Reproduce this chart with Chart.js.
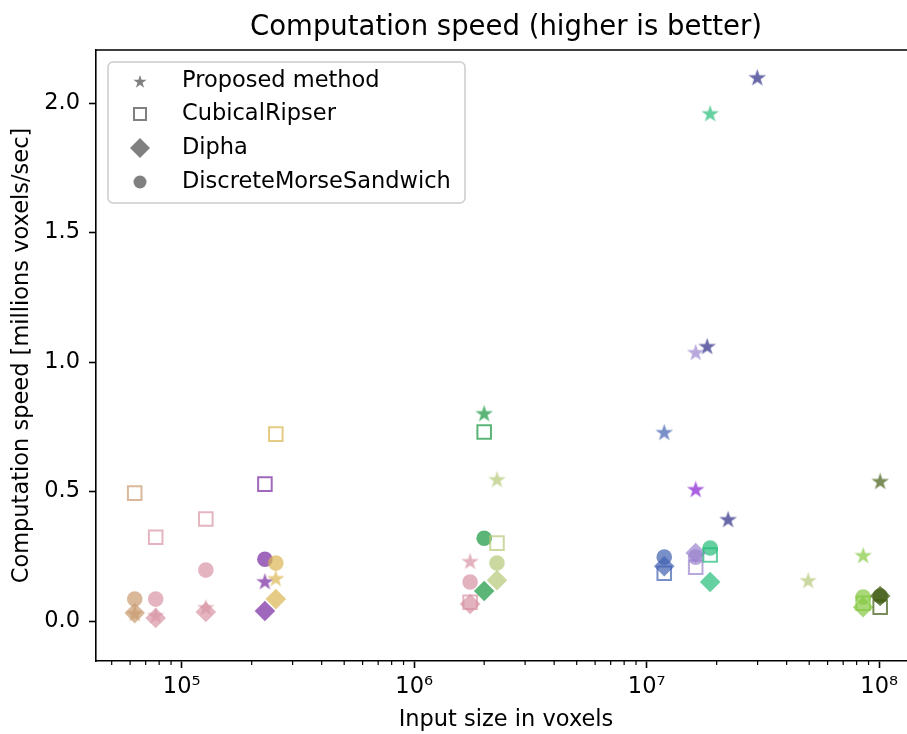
<!DOCTYPE html>
<html>
<head>
<meta charset="utf-8">
<script src="https://cdn.jsdelivr.net/npm/chart.js@4.4.1/dist/chart.umd.min.js"></script>
<style>
  html, body { margin: 0; padding: 0; background: #fff; overflow: hidden; }
  #speedChart { display: block; width: 907px; height: 734px; }
</style>
</head>
<body>
<canvas id="speedChart" width="907" height="734"></canvas>
<script>
// input sizes in voxels, one per test volume
const inputSizes = [6.28e4, 7.73e4, 1.27e5, 2.28e5, 2.54e5, 1.74e6, 2.0e6, 2.27e6, 1.19e7, 1.625e7, 1.625e7, 1.82e7, 1.875e7, 2.24e7, 2.99e7, 4.95e7, 8.53e7, 1.01e8];

// computation speed in millions voxels/sec (null = no run for that volume)
const proposedSpeed = [0.031, 0.023, 0.054, 0.154, 0.166, 0.232, 0.803, 0.548, 0.730, 1.039, 0.510, 1.062, 1.961, 0.394, 2.100, 0.158, 0.255, 0.541];
const cubicalRipserSpeed = [0.494, 0.324, 0.394, 0.529, 0.722, 0.073, 0.730, 0.301, 0.185, 0.208, null, null, 0.255, null, null, null, 0.069, 0.054];
const diphaSpeed = [0.031, 0.012, 0.035, 0.039, 0.085, 0.066, 0.116, 0.158, 0.212, 0.263, null, null, 0.151, null, null, null, 0.054, 0.097];
const dmsSpeed = [0.085, 0.085, 0.197, 0.239, 0.224, 0.151, 0.320, 0.224, 0.247, 0.247, null, null, 0.282, null, null, null, 0.093, 0.097];

const methodNames = ['Proposed method', 'CubicalRipser', 'Dipha', 'DiscreteMorseSandwich'];
const xTickValues = [1e5, 1e6, 1e7, 1e8];
const yTickValues = [0, 0.5, 1.0, 1.5, 2.0];

// one colour per input volume
const inputColors = [
  'rgba(201,155,111,0.7)', 'rgba(216,150,165,0.7)', 'rgba(216,150,165,0.7)', 'rgba(120,40,160,0.7)',
  'rgba(218,181,81,0.7)', 'rgba(214,145,162,0.7)', 'rgba(21,149,61,0.7)', 'rgba(181,201,119,0.7)',
  'rgba(62,96,177,0.7)', 'rgba(154,131,205,0.7)', 'rgba(131,28,211,0.7)', 'rgba(42,42,134,0.7)',
  'rgba(36,188,119,0.7)', 'rgba(42,42,134,0.7)', 'rgba(42,42,134,0.7)', 'rgba(181,201,119,0.7)',
  'rgba(131,199,62,0.7)', 'rgba(65,91,19,0.7)'
];

const FONT = 'DejaVu Sans';
const superDigits = '⁰¹²³⁴⁵⁶⁷⁸⁹';
// the original axes run a little past the right edge of the picture
const AXES_RIGHT = 916;

function starPath(ctx, cx, cy, R) {
  const r = R * 0.382;
  ctx.beginPath();
  for (let i = 0; i < 10; i++) {
    const a = -Math.PI / 2 + i * Math.PI / 5;
    const rad = i % 2 === 0 ? R : r;
    const px = cx + rad * Math.cos(a), py = cy + rad * Math.sin(a);
    if (i === 0) ctx.moveTo(px, py); else ctx.lineTo(px, py);
  }
  ctx.closePath();
}

function starImage(color, R) {
  const c = document.createElement('canvas');
  const s = Math.ceil(2 * R + 2);
  c.width = s; c.height = s;
  const g = c.getContext('2d');
  g.fillStyle = color;
  starPath(g, s / 2, s / 2 + R * 0.1, R);
  g.fill();
  return c;
}

const starImgs = inputColors.map(c => starImage(c, 9.2));

function points(values) {
  return values.map((v, i) => v === null ? null : { x: inputSizes[i], y: v, c: i }).filter(p => p);
}
const colorOf = ctx => ctx.raw ? inputColors[ctx.raw.c] : '#888';

// widen the x axis past the canvas edge
const widenAxes = {
  id: 'widenAxes',
  afterLayout(chart) {
    const d = AXES_RIGHT - chart.chartArea.right;
    chart.chartArea.right += d;
    chart.chartArea.width += d;
    const xs = chart.scales.x;
    xs.right += d;
    xs.width += d;
    xs.configure();
  }
};

// legend box, title, minor ticks and top/right spines
const extras = {
  id: 'extras',
  afterDraw(chart) {
    const { ctx, chartArea: a, scales } = chart;
    ctx.save();
    ctx.strokeStyle = '#000';
    ctx.lineWidth = 1.6;
    ctx.beginPath();
    ctx.moveTo(a.left, a.top); ctx.lineTo(a.right, a.top); ctx.lineTo(a.right, a.bottom);
    ctx.stroke();
    // minor ticks on log axis
    const xs = scales.x;
    ctx.lineWidth = 1.2;
    for (let e = 4; e <= 8; e++) {
      for (let m = 2; m <= 9; m++) {
        const v = m * Math.pow(10, e);
        if (v < xs.min || v > xs.max) continue;
        const px = xs.getPixelForValue(v);
        ctx.beginPath(); ctx.moveTo(px, a.bottom); ctx.lineTo(px, a.bottom + 4); ctx.stroke();
      }
    }
    // title, centred on the axes like matplotlib
    ctx.fillStyle = '#000';
    ctx.font = '27.5px "' + FONT + '"';
    ctx.textAlign = 'center';
    ctx.textBaseline = 'alphabetic';
    ctx.fillText('Computation speed (higher is better)', (a.left + a.right) / 2, 35);
    // legend
    const bx = a.left + 12, by = a.top + 12, bw = 357, bh = 141;
    ctx.beginPath();
    ctx.roundRect(bx, by, bw, bh, 5);
    ctx.fillStyle = 'rgba(255,255,255,0.8)';
    ctx.fill();
    ctx.strokeStyle = '#cccccc';
    ctx.lineWidth = 1.5;
    ctx.stroke();
    const grey = '#808080';
    const mx = bx + 32;
    const rows = [by + 19, by + 52, by + 86, by + 120];
    ctx.fillStyle = grey;
    starPath(ctx, mx, rows[0] + 1, 7); ctx.fill();
    ctx.strokeStyle = grey; ctx.lineWidth = 2;
    ctx.strokeRect(mx - 6, rows[1] - 6, 12, 12);
    ctx.beginPath();
    ctx.moveTo(mx, rows[2] - 10); ctx.lineTo(mx + 10, rows[2]); ctx.lineTo(mx, rows[2] + 10); ctx.lineTo(mx - 10, rows[2]);
    ctx.closePath(); ctx.fill();
    ctx.beginPath(); ctx.arc(mx, rows[3], 6.5, 0, Math.PI * 2); ctx.fill();
    ctx.fillStyle = '#000';
    ctx.font = '22.5px "' + FONT + '"';
    ctx.textAlign = 'left';
    ctx.textBaseline = 'middle';
    methodNames.forEach((n, i) => ctx.fillText(n, bx + 74, rows[i]));
    ctx.restore();
  }
};

const ctx = document.getElementById('speedChart').getContext('2d');
const speedChart = new Chart(ctx, {
  type: 'scatter',
  data: {
    datasets: [
      {
        label: methodNames[0], data: points(proposedSpeed),
        pointStyle: c => c.raw ? starImgs[c.raw.c] : 'circle',
        pointRadius: 9, pointBackgroundColor: colorOf, pointBorderWidth: 0
      },
      {
        label: methodNames[1], data: points(cubicalRipserSpeed),
        pointStyle: 'rect', pointRadius: 9.6, pointBackgroundColor: 'rgba(0,0,0,0)',
        pointBorderColor: colorOf, pointBorderWidth: 2
      },
      {
        label: methodNames[2], data: points(diphaSpeed),
        pointStyle: 'rectRot', pointRadius: 10.3, pointBackgroundColor: colorOf, pointBorderWidth: 0
      },
      {
        label: methodNames[3], data: points(dmsSpeed),
        pointStyle: 'circle', pointRadius: 7.8, pointBackgroundColor: colorOf, pointBorderWidth: 0
      }
    ]
  },
  options: {
    responsive: false,
    animation: false,
    events: [],
    layout: { padding: { top: 50, right: 2, left: 0, bottom: 0 } },
    plugins: { legend: { display: false }, tooltip: { enabled: false } },
    scales: {
      x: {
        type: 'logarithmic',
        min: 4.28e4,
        max: 1.44e8,
        afterBuildTicks: s => { s.ticks = xTickValues.map(v => ({ value: v, major: true })); },
        afterFit: s => { s.height = 73; },
        ticks: {
          color: '#000',
          font: { family: FONT, size: 22.5 },
          padding: 6,
          maxRotation: 0,
          autoSkip: false,
          callback: v => '10' + String(Math.round(Math.log10(v))).split('').map(d => superDigits[+d]).join('')
        },
        grid: { drawOnChartArea: false, drawTicks: true, tickLength: 7, tickWidth: 1.6, tickColor: '#000', color: '#000' },
        border: { display: true, color: '#000', width: 1.6 },
        title: { display: true, text: 'Input size in voxels', color: '#000', font: { family: FONT, size: 22.5 }, padding: { top: 0, bottom: 0.5 } }
      },
      y: {
        type: 'linear',
        min: -0.154,
        max: 2.205,
        afterBuildTicks: s => { s.ticks = yTickValues.map(v => ({ value: v })); },
        afterFit: s => { s.width = 96; },
        ticks: {
          color: '#000',
          font: { family: FONT, size: 22.5 },
          padding: 9,
          callback: v => v.toFixed(1)
        },
        grid: { drawOnChartArea: false, drawTicks: true, tickLength: 7, tickWidth: 1.6, tickColor: '#000', color: '#000' },
        border: { display: true, color: '#000', width: 1.6 },
        title: { display: true, text: 'Computation speed [millions voxels/sec]', color: '#000', font: { family: FONT, size: 22.5 }, padding: { top: 8.5, bottom: 0 } }
      }
    }
  },
  plugins: [widenAxes, extras]
});
</script>
</body>
</html>
